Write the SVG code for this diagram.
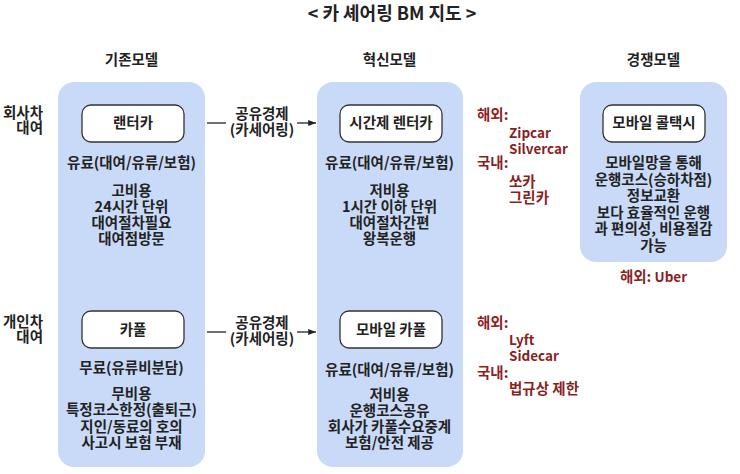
<svg xmlns="http://www.w3.org/2000/svg" width="740" height="474" viewBox="0 0 740 474">
<defs>
<style>
text{font-family:"Noto Sans CJK KR","Noto Sans",sans-serif;font-weight:bold;font-size:14.5px;fill:#222;}
.c{text-anchor:middle;}
.r{text-anchor:end;}
.red{fill:#8b1f1f;}
.lat{font-size:13.5px;}
.title{font-size:18px;}
.panel{fill:#c9daf8;stroke:none;}
.box{fill:#fff;stroke:#333;stroke-width:1.3;}
.conn{stroke:#222;stroke-width:1.3;fill:none;}
</style>
<marker id="ah" viewBox="0 0 10 10" refX="10" refY="5" markerWidth="6" markerHeight="6" orient="auto">
<path d="M0,1 L10,5 L0,9 z" fill="#222"/>
</marker>
</defs>
<rect width="740" height="474" fill="#fff"/>
<text class="c title" x="392" y="20">&lt; 카 셰어링 BM 지도 &gt;</text>

<g id="headers">
<text class="c" x="131.5" y="65">기존모델</text>
<text class="c" x="389.5" y="65">혁신모델</text>
<text class="c" x="653.5" y="65">경쟁모델</text>
</g>

<g id="row-labels">
<text class="r" x="43" y="118">회사차<tspan x="43" dy="15">대여</tspan></text>
<text class="r" x="43" y="327">개인차<tspan x="43" dy="15">대여</tspan></text>
</g>

<g id="panel-existing">
<rect class="panel" x="58" y="82" width="147" height="385" rx="16"/>
</g>
<g id="panel-innovative">
<rect class="panel" x="317" y="82" width="146" height="385" rx="16"/>
</g>
<g id="panel-competing">
<rect class="panel" x="580" y="82" width="147" height="180" rx="16"/>
</g>

<g id="node-rentcar">
<rect class="box" x="82" y="105" width="102" height="37" rx="9"/>
<text class="c" x="133" y="128">랜터카</text>
<text class="c" x="131.5" y="168">유료(대여/유류/보험)</text>
<text class="c" x="131.5" y="196">고비용<tspan x="131.5" dy="16">24시간 단위</tspan><tspan x="131.5" dy="16">대여절차필요</tspan><tspan x="131.5" dy="16">대여점방문</tspan></text>
</g>

<g id="node-carpool">
<rect class="box" x="82" y="311" width="102" height="37" rx="9"/>
<text class="c" x="133" y="335">카풀</text>
<text class="c" x="131.5" y="373">무료(유류비분담)</text>
<text class="c" x="131.5" y="399">무비용<tspan x="131.5" dy="16.3">특정코스한정(출퇴근)</tspan><tspan x="131.5" dy="16.3">지인/동료의 호의</tspan><tspan x="131.5" dy="16.3">사고시 보험 부재</tspan></text>
</g>

<g id="node-hourly-rentcar">
<rect class="box" x="340" y="105" width="102" height="37" rx="9"/>
<text class="c" x="391" y="128">시간제 렌터카</text>
<text class="c" x="389.5" y="168">유료(대여/유류/보험)</text>
<text class="c" x="389.5" y="196">저비용<tspan x="389.5" dy="16">1시간 이하 단위</tspan><tspan x="389.5" dy="16">대여절차간편</tspan><tspan x="389.5" dy="16">왕복운행</tspan></text>
</g>

<g id="node-mobile-carpool">
<rect class="box" x="340" y="311" width="102" height="37" rx="9"/>
<text class="c" x="391" y="335">모바일 카풀</text>
<text class="c" x="389.5" y="375">유료(대여/유류/보험)</text>
<text class="c" x="389.5" y="400">저비용<tspan x="389.5" dy="16">운행코스공유</tspan><tspan x="389.5" dy="16">회사가 카풀수요중계</tspan><tspan x="389.5" dy="16">보험/안전 제공</tspan></text>
</g>

<g id="node-mobile-calltaxi">
<rect class="box" x="603" y="105" width="102" height="37" rx="9"/>
<text class="c" x="654" y="128">모바일 콜택시</text>
<text class="c" x="653.5" y="168">모바일망을 통해<tspan x="653.5" dy="16.6">운행코스(승하차점)</tspan><tspan x="653.5" dy="16.6">정보교환</tspan><tspan x="653.5" dy="16.6">보다 효율적인 운행</tspan><tspan x="653.5" dy="16.6">과 편의성, 비용절감</tspan><tspan x="653.5" dy="16.6">가능</tspan></text>
<text class="c red" x="653.5" y="282">해외: <tspan class="lat">Uber</tspan></text>
</g>

<g id="examples-top">
<text class="red" x="477" y="120">해외:<tspan class="lat" x="509" dy="18">Zipcar</tspan><tspan class="lat" x="509" dy="16">Silvercar</tspan><tspan x="477" dy="14">국내:</tspan><tspan x="509" dy="19">쏘카</tspan><tspan x="509" dy="16">그린카</tspan></text>
</g>

<g id="examples-bottom">
<text class="red" x="477" y="328">해외:<tspan class="lat" x="509" dy="17">Lyft</tspan><tspan class="lat" x="509" dy="16">Sidecar</tspan><tspan x="477" dy="17">국내:</tspan><tspan x="509" dy="16">법규상 제한</tspan></text>
</g>

<g id="connectors">
<line class="conn" x1="207" y1="123" x2="226" y2="123"/>
<line class="conn" x1="297" y1="123" x2="316" y2="123" marker-end="url(#ah)"/>
<text class="c" x="262" y="119">공유경제<tspan x="262" dy="16">(카세어링)</tspan></text>
<line class="conn" x1="207" y1="332" x2="226" y2="332"/>
<line class="conn" x1="297" y1="332" x2="316" y2="332" marker-end="url(#ah)"/>
<text class="c" x="262" y="328">공유경제<tspan x="262" dy="16">(카세어링)</tspan></text>
</g>
</svg>
